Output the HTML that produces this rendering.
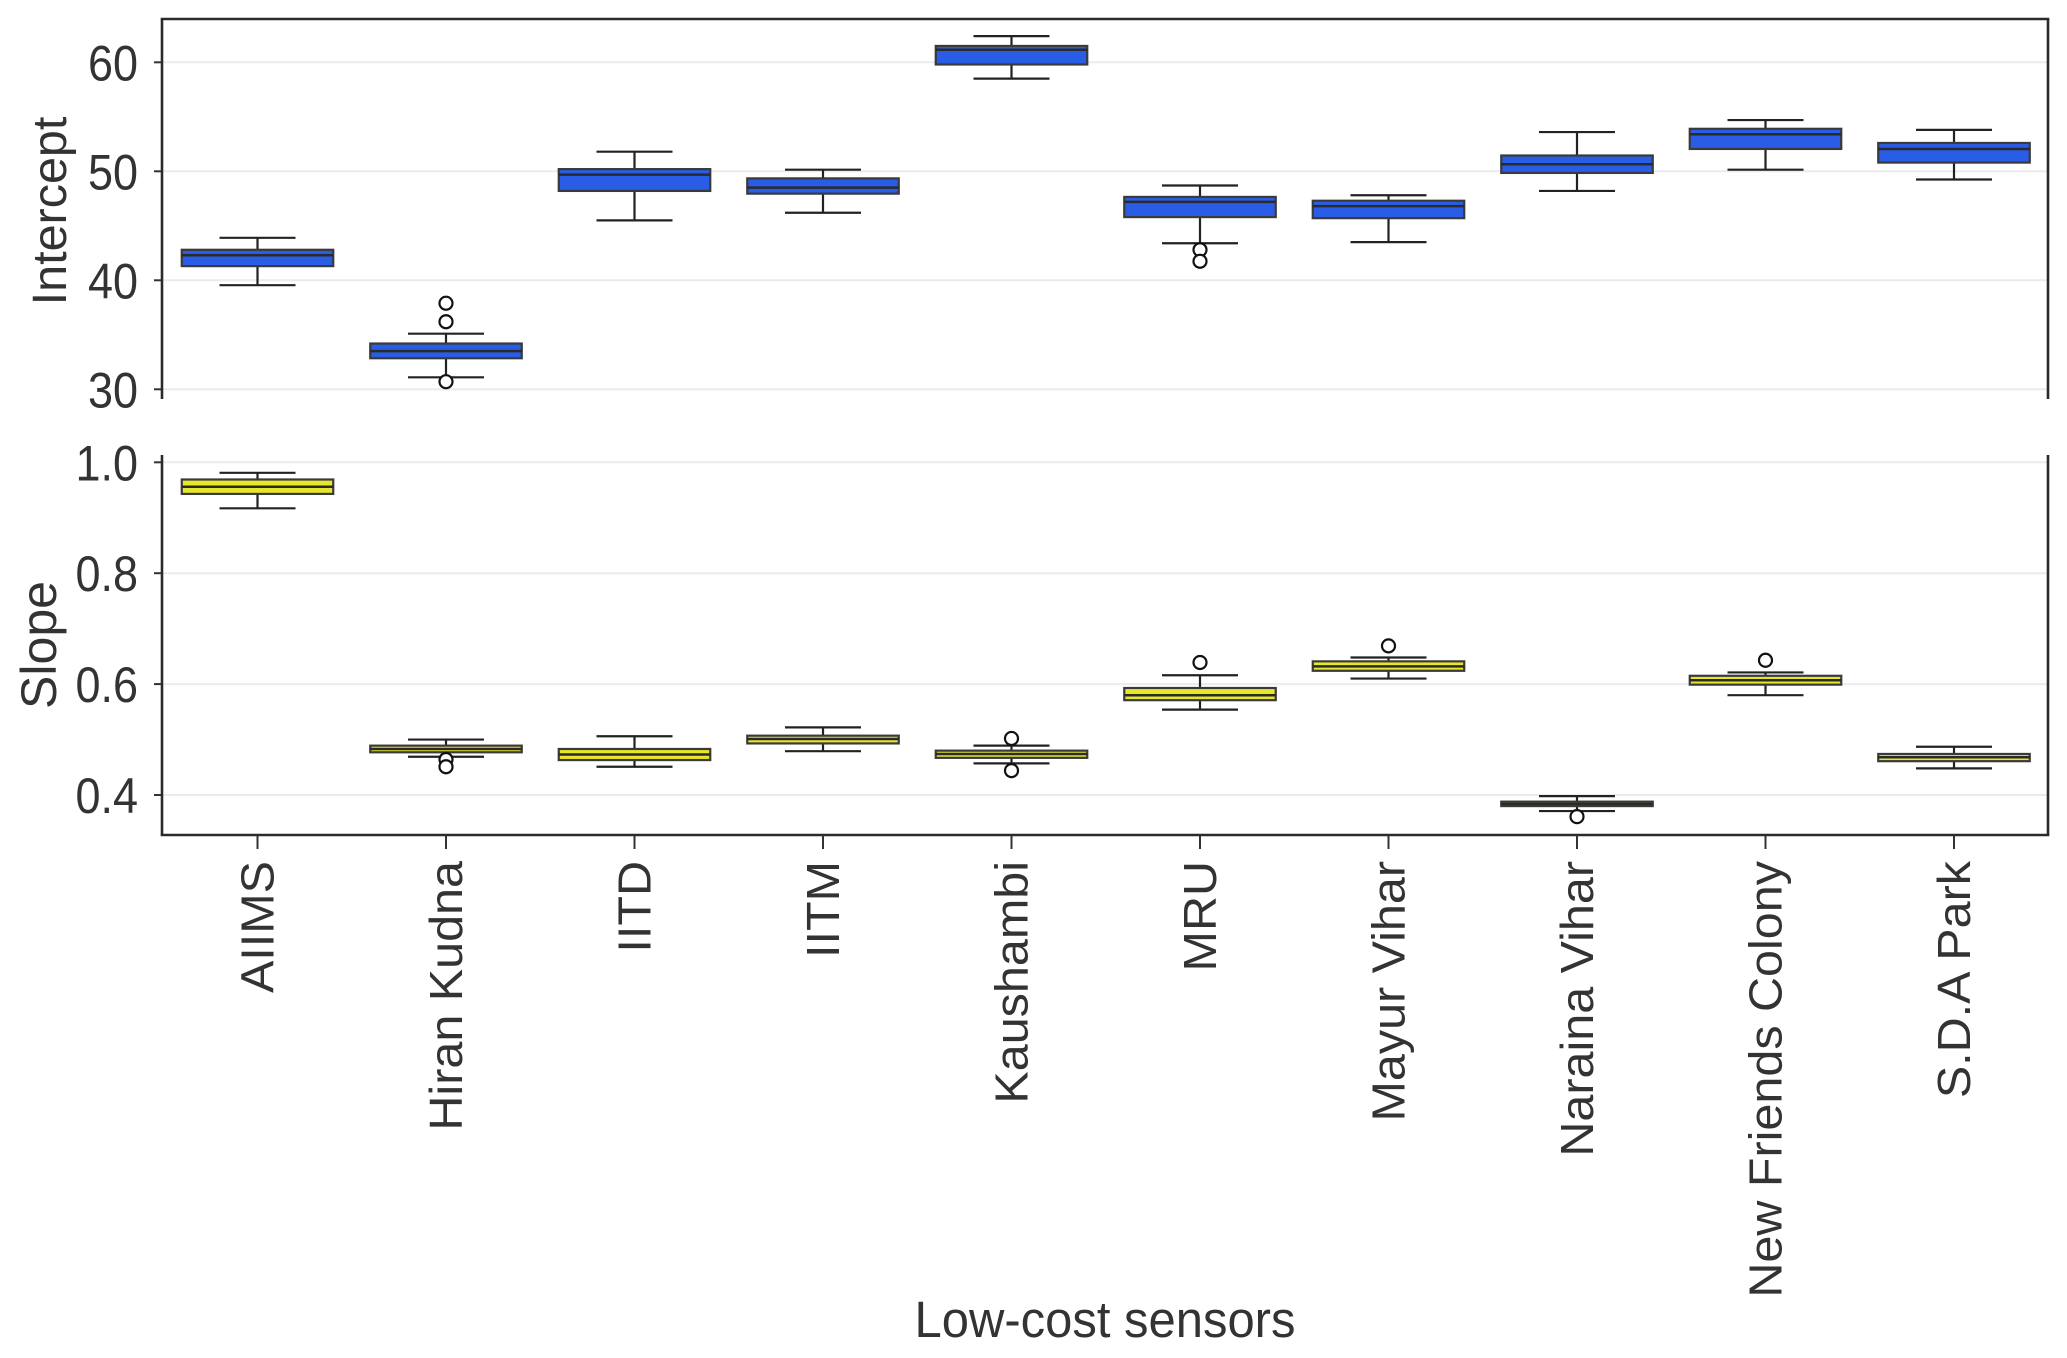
<!DOCTYPE html>
<html><head><meta charset="utf-8"><style>
html,body{margin:0;padding:0;background:#fff;}
svg{display:block;font-family:"Liberation Sans",Arial,sans-serif;}
</style></head><body>
<svg id="chart" width="2067" height="1358" viewBox="0 0 2067 1358" xmlns="http://www.w3.org/2000/svg"></svg>
<script>
const categories=["AIIMS","Hiran Kudna","IITD","IITM","Kaushambi","MRU","Mayur Vihar","Naraina Vihar","New Friends Colony","S.D.A Park"];
// [whiskerLow, q1, median, q3, whiskerHigh]
const interceptStats=[[39.55,41.3,42.3,42.8,43.9],[31.1,32.85,33.5,34.2,35.1],[45.5,48.2,49.7,50.2,51.8],[46.2,47.95,48.5,49.35,50.15],[58.5,59.8,61.15,61.5,62.4],[43.4,45.8,47.2,47.65,48.7],[43.5,45.7,46.8,47.3,47.8],[48.2,49.85,50.65,51.45,53.6],[50.15,52.05,53.4,53.9,54.7],[49.25,50.8,52.05,52.6,53.8]];
const interceptOutliers=[[],[37.9,36.2,30.7],[],[],[],[42.8,41.75],[],[],[],[]];
const slopeStats=[[0.917,0.943,0.956,0.969,0.981],[0.469,0.477,0.483,0.489,0.500],[0.451,0.463,0.473,0.483,0.506],[0.479,0.493,0.501,0.507,0.522],[0.457,0.467,0.474,0.480,0.489],[0.554,0.571,0.580,0.593,0.616],[0.610,0.624,0.632,0.641,0.648],[0.371,0.380,0.384,0.388,0.398],[0.580,0.599,0.607,0.615,0.621],[0.448,0.461,0.468,0.474,0.487]];
const slopeOutliers=[[],[0.464,0.451],[],[],[0.502,0.444],[0.639],[0.669],[0.361],[0.643],[]];
const interceptTicks=[30,40,50,60];
const slopeTicks=[0.4,0.6,0.8,1.0];

const NS="http://www.w3.org/2000/svg";
const svg=document.getElementById('chart');
const L=162,R=2048;
const xPos=i=>257.5+188.5*i;
const yTop=v=>171.3+(50-v)*10.9;
const yBot=v=>462.3+(1-v)*554.5;
function mk(tag,attrs,parent){const e=document.createElementNS(NS,tag);for(const k in attrs)e.setAttribute(k,attrs[k]);(parent||svg).appendChild(e);return e;}

function panel(name,stats,outs,ticks,yf,fill,top,bottom,hasTopSpine,fmt){
  const g=mk('g',{});
  
  
  ticks.forEach(t=>{
    const y=yf(t);
    const gl=mk('line',{x1:L,x2:R,y1:y,y2:y,stroke:'#ebebeb','stroke-width':2},g);
    
    
    const tk=mk('line',{x1:L-8,x2:L,y1:y,y2:y,stroke:'#333','stroke-width':2},g);
    
    
    const tx=mk('text',{x:0,y:0,'text-anchor':'end','font-size':50,fill:'#333',transform:`translate(${L-24},${y+18}) scale(0.9,1)`},g);
    tx.textContent=fmt(t);
    
    
  });
  stats.forEach((s,i)=>{
    const cx=xPos(i),bw=151.5,cw=76;
    const bg=mk('g',{},g);
    
    
    mk('line',{x1:cx,x2:cx,y1:yf(s[0]),y2:yf(s[1]),stroke:'#222','stroke-width':2.2},bg);
    mk('line',{x1:cx,x2:cx,y1:yf(s[3]),y2:yf(s[4]),stroke:'#222','stroke-width':2.2},bg);
    mk('line',{x1:cx-cw/2,x2:cx+cw/2,y1:yf(s[0]),y2:yf(s[0]),stroke:'#222','stroke-width':2.2},bg);
    mk('line',{x1:cx-cw/2,x2:cx+cw/2,y1:yf(s[4]),y2:yf(s[4]),stroke:'#222','stroke-width':2.2},bg);
    mk('rect',{x:cx-bw/2,y:yf(s[3]),width:bw,height:Math.max(1,yf(s[1])-yf(s[3])),fill:fill,stroke:'#3a3a3a','stroke-width':2.2},bg);
    mk('line',{x1:cx-bw/2,x2:cx+bw/2,y1:yf(s[2]),y2:yf(s[2]),stroke:'#2a2a2a','stroke-width':2.5},bg);
    outs[i].forEach(o=>{
      const c=mk('circle',{cx:cx,cy:yf(o),r:6.5,fill:'#fff',stroke:'#111','stroke-width':2.2},bg);
      
      
    });
  });
  const sp=(x1,y1,x2,y2)=>{const l=mk('line',{x1,y1,x2,y2,stroke:'#2a2a2a','stroke-width':2.6},g);};
  sp(L,top,L,bottom);sp(R,top,R,bottom);
  if(hasTopSpine)sp(L-1.3,top,R+1.3,top);else sp(L-1.3,bottom,R+1.3,bottom);
}
panel('intercept',interceptStats,interceptOutliers,interceptTicks,yTop,'#2a5de6',19,399,true,t=>String(t));
panel('slope',slopeStats,slopeOutliers,slopeTicks,yBot,'#e6e62c',455,835,false,t=>t.toFixed(1));

categories.forEach((c,i)=>{
  const x=xPos(i);
  const tk=mk('line',{x1:x,x2:x,y1:835,y2:849,stroke:'#333','stroke-width':2});
  
  
  const t=mk('text',{x:0,y:0,'text-anchor':'end','font-size':48.5,fill:'#333',transform:`translate(${x+16},861) rotate(-90) scale(1,0.95)`});
  t.textContent=c;
  
  
});
let t=mk('text',{x:0,y:0,'text-anchor':'middle','font-size':51,fill:'#333',transform:'translate(1105,1337) scale(0.96,1)'});
t.textContent='Low-cost sensors';


t=mk('text',{x:0,y:0,'text-anchor':'middle','font-size':48.5,fill:'#333',transform:'translate(66,211) rotate(-90)'});
t.textContent='Intercept';


t=mk('text',{x:0,y:0,'text-anchor':'middle','font-size':50,fill:'#333',transform:'translate(56,645) rotate(-90)'});
t.textContent='Slope';


</script>
</body></html>
